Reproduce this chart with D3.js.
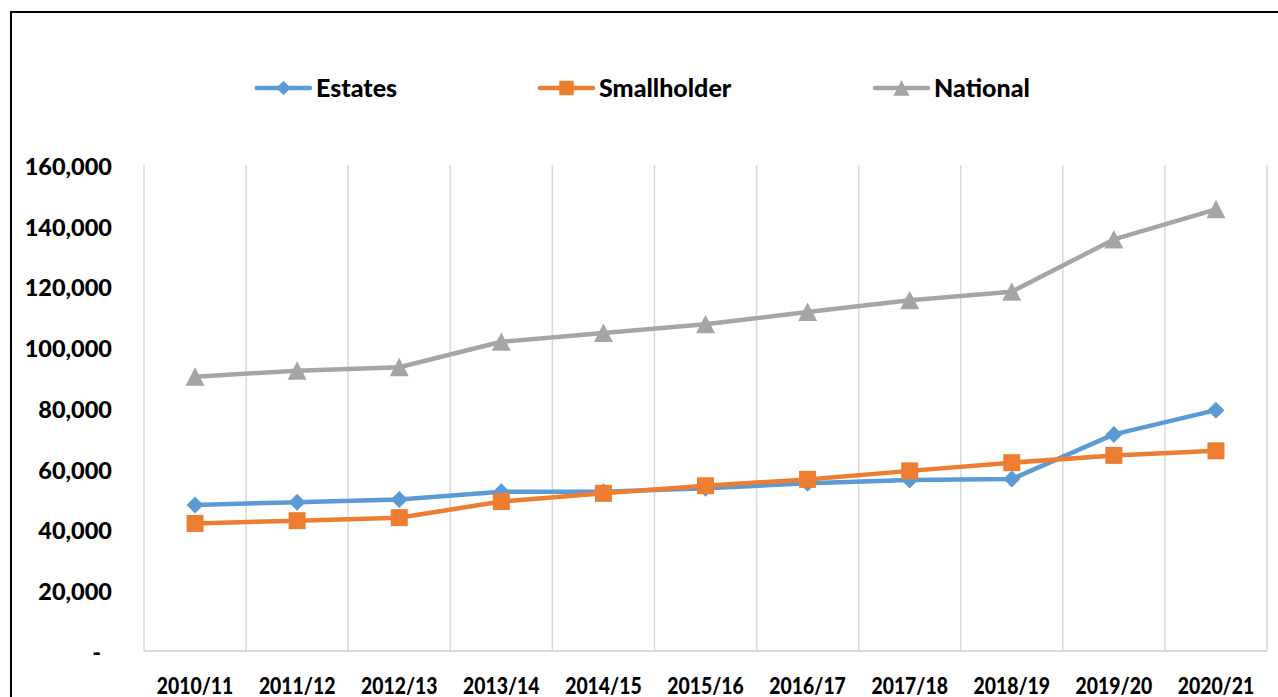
<!DOCTYPE html>
<html>
<head>
<meta charset="utf-8">
<script src="https://cdn.jsdelivr.net/npm/d3@7"></script>
<style>
    body { margin: 0; background: #fff; }
    #chart { width: 1278px; height: 697px; overflow: hidden; }
    text { font-family: Lato, "Open Sans", sans-serif; font-weight: 900; fill: #000; }
</style>
</head>
<body>
<div id="chart"></div>
<script>
// data
var years = ['2010/11', '2011/12', '2012/13', '2013/14', '2014/15', '2015/16', '2016/17', '2017/18', '2018/19', '2019/20', '2020/21'];
var estates = [48100, 49000, 49900, 52400, 52400, 53600, 55200, 56300, 56600, 71300, 79300];
var smallholder = [42000, 42900, 43900, 49200, 51900, 54400, 56500, 59300, 62000, 64400, 65900];
var national = [90300, 92300, 93400, 101800, 104700, 107600, 111600, 115500, 118300, 135500, 145400];
var yTicks = [0, 20000, 40000, 60000, 80000, 100000, 120000, 140000, 160000];

var series = [
    { name: 'Estates', values: estates, color: '#5B9BD5', marker: 'diamond', legendX: 255 },
    { name: 'Smallholder', values: smallholder, color: '#ED7D31', marker: 'square', legendX: 538 },
    { name: 'National', values: national, color: '#A5A5A5', marker: 'triangle', legendX: 873 }
];

var width = 1278,
    height = 697,
    plot = { left: 144, right: 1267, top: 165, bottom: 651 },
    numberFormat = d3.format(',');

// marker shapes centred on 0,0
var markerPath = function (type) {
    if (type === 'diamond') return 'M0,-8.5L8.5,0L0,8.5L-8.5,0Z';
    if (type === 'square') return 'M-8.5,-8.5H8.5V8.5H-8.5Z';
    return 'M0,-9.5L9.5,9L-9.5,9Z';
};

var svg = d3.select('#chart')
    .append('svg')
    .attr('width', width)
    .attr('height', height);

// frame (only top and left edges are in view)
svg.append('rect')
    .attr('x', 11)
    .attr('y', 12)
    .attr('width', 1300)
    .attr('height', 720)
    .attr('fill', 'none')
    .attr('stroke', '#000')
    .attr('stroke-width', 2);

var x = d3.scaleBand()
    .domain(years)
    .range([plot.left, plot.right]);

var y = d3.scaleLinear()
    .domain([0, 160000])
    .range([plot.bottom, plot.top]);

// vertical gridlines at category boundaries
var edges = years.map(function (d) { return x(d); }).concat([plot.right]);
svg.append('g')
    .selectAll('line')
    .data(edges)
    .enter()
    .append('line')
    .attr('x1', function (d) { return d; })
    .attr('x2', function (d) { return d; })
    .attr('y1', plot.top)
    .attr('y2', plot.bottom)
    .attr('stroke', '#D9D9D9')
    .attr('stroke-width', 1.5);

svg.append('line')
    .attr('x1', plot.left)
    .attr('x2', plot.right)
    .attr('y1', plot.bottom)
    .attr('y2', plot.bottom)
    .attr('stroke', '#D9D9D9')
    .attr('stroke-width', 2);

// y axis labels
var yAxis = svg.append('g')
    .attr('transform', 'translate(' + plot.left + ',0)')
    .call(d3.axisLeft(y)
        .tickValues(yTicks)
        .tickSize(0)
        .tickPadding(32)
        .tickFormat(function (d) { return d === 0 ? '-' : numberFormat(d); }));
yAxis.select('.domain').remove();
yAxis.selectAll('text')
    .style('font-family', null)
    .attr('font-size', 23.5)
    .attr('dy', '0.4em')
    .attr('x', function (d) { return d === 0 ? -43 : -32; });

// x axis labels
var xAxis = svg.append('g')
    .attr('transform', 'translate(0,' + plot.bottom + ')')
    .call(d3.axisBottom(x).tickSize(0).tickPadding(0));
xAxis.select('.domain').remove();
xAxis.selectAll('text')
    .style('font-family', null)
    .attr('font-size', 22)
    .attr('y', 43)
    .attr('dy', 0)
    .attr('transform', 'scale(0.88,1)')
    .attr('x', 0);
// keep the squeezed labels centred on their ticks
xAxis.selectAll('.tick')
    .attr('transform', function (d) { return 'translate(' + (x(d) + x.bandwidth() / 2) + ',0)'; });

// lines and markers
var line = d3.line()
    .x(function (d, i) { return x(years[i]) + x.bandwidth() / 2; })
    .y(function (d) { return y(d); });

var groups = svg.append('g')
    .selectAll('.series')
    .data(series)
    .enter()
    .append('g')
    .attr('class', 'series');

groups.append('path')
    .attr('d', function (d) { return line(d.values); })
    .attr('fill', 'none')
    .attr('stroke', function (d) { return d.color; })
    .attr('stroke-width', 4.5)
    .attr('stroke-linejoin', 'round')
    .attr('stroke-linecap', 'round');

groups.each(function (s) {
    d3.select(this)
        .selectAll('.marker')
        .data(s.values)
        .enter()
        .append('path')
        .attr('class', 'marker')
        .attr('d', markerPath(s.marker))
        .attr('fill', s.color)
        .attr('transform', function (d, i) {
            return 'translate(' + (x(years[i]) + x.bandwidth() / 2) + ',' + y(d) + ')';
        });
});

// legend
var legend = svg.append('g')
    .selectAll('.legend')
    .data(series)
    .enter()
    .append('g')
    .attr('class', 'legend')
    .attr('transform', function (d) { return 'translate(' + d.legendX + ',88)'; });

legend.append('line')
    .attr('x1', 2)
    .attr('x2', 55)
    .attr('stroke', function (d) { return d.color; })
    .attr('stroke-width', 4.5)
    .attr('stroke-linecap', 'round');

legend.append('path')
    .attr('d', function (d) { return markerPath(d.marker); })
    .attr('transform', 'translate(28.5,0) scale(0.85)')
    .attr('fill', function (d) { return d.color; });

legend.append('text')
    .attr('x', 61)
    .attr('y', 9)
    .attr('font-size', 25)
    .text(function (d) { return d.name; });
</script>
</body>
</html>
